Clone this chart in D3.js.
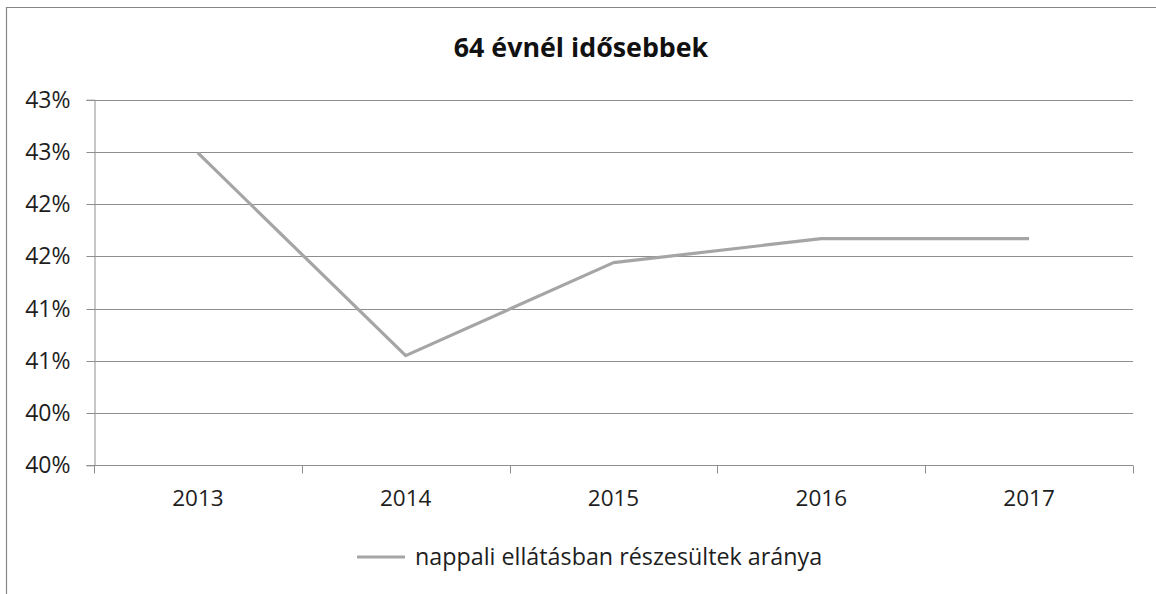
<!DOCTYPE html>
<html>
<head>
<meta charset="utf-8">
<script src="https://cdn.jsdelivr.net/npm/d3@7"></script>
<style>
  html, body { margin: 0; padding: 0; background: #fff; }
  svg { display: block; font-family: "Open Sans", Lato, sans-serif; }
</style>
</head>
<body>
<svg id="chart" width="1156" height="594"></svg>
<script>
// Share of people over 64 receiving day care, by year
const years = ["2013", "2014", "2015", "2016", "2017"];
const shareValues = [42.99, 41.05, 41.94, 42.17, 42.17];
const yTickValues = [40, 40.5, 41, 41.5, 42, 42.5, 43, 43.5];
const yTickLabels = ["40%", "40%", "41%", "41%", "42%", "42%", "43%", "43%"];
const titleText = "64 évnél idősebbek";
const seriesName = "nappali ellátásban részesültek aránya";

const svg = d3.select("#chart");
const W = 1156, H = 594;
const plot = { left: 94, right: 1133, top: 99.7, bottom: 465.3 };
const gridColor = "#8e8e8e";
const lineColor = "#a5a5a5";
const textColor = "#1e1e1e";

svg.append("rect").attr("width", W).attr("height", H).attr("fill", "#fff");

// outer frame (left and top edges visible)
svg.append("path")
  .attr("d", `M6.5,${H} V7.5 H${W}`)
  .attr("fill", "none")
  .attr("stroke", "#878787")
  .attr("stroke-width", 1.2);

const x = d3.scaleBand().domain(years).range([plot.left, plot.right]).padding(0);
const y = d3.scaleLinear().domain([40, 43.5]).range([plot.bottom, plot.top]);
const snap = v => Math.round(v) + 0.5;

// horizontal gridlines
svg.append("g").selectAll("line").data(yTickValues).join("line")
  .attr("x1", plot.left).attr("x2", plot.right)
  .attr("y1", d => snap(y(d))).attr("y2", d => snap(y(d)))
  .attr("stroke", gridColor).attr("stroke-width", 1);

// y axis
const yAxis = d3.axisLeft(y).tickValues(yTickValues)
  .tickFormat((d, i) => yTickLabels[i]).tickSize(8).tickPadding(16);
const gy = svg.append("g").attr("transform", `translate(${plot.left + 0.5},0)`).call(yAxis);
gy.select(".domain").attr("stroke", gridColor);
gy.selectAll(".tick line").attr("stroke", gridColor);
gy.selectAll(".tick").attr("transform", d => `translate(0,${snap(y(d))})`);
gy.selectAll("text").attr("font-size", 23).attr("fill", textColor)
  .attr("font-family", "'Open Sans', sans-serif");

// x axis with ticks at category boundaries
const gx = svg.append("g").attr("transform", `translate(0,${snap(plot.bottom)})`);
gx.append("line").attr("x1", plot.left).attr("x2", plot.right)
  .attr("stroke", gridColor);
const bounds = years.map(d => x(d)).concat([plot.right]);
gx.selectAll("line.tk").data(bounds).join("line").attr("class", "tk")
  .attr("x1", d => snap(d)).attr("x2", d => snap(d))
  .attr("y1", 0).attr("y2", 8).attr("stroke", gridColor);
gx.selectAll("text").data(years).join("text")
  .attr("x", d => x(d) + x.bandwidth() / 2)
  .attr("y", 40)
  .attr("text-anchor", "middle")
  .attr("font-size", 22.5).attr("fill", textColor)
  .text(d => d);

// series line
const line = d3.line()
  .x((d, i) => x(years[i]) + x.bandwidth() / 2)
  .y(d => y(d));
svg.append("path").datum(shareValues)
  .attr("d", line)
  .attr("fill", "none")
  .attr("stroke", lineColor)
  .attr("stroke-width", 3.2)
  .attr("stroke-linejoin", "round");

// title
svg.append("text").attr("x", 581).attr("y", 57)
  .attr("text-anchor", "middle")
  .attr("font-size", 26.8).attr("font-weight", "bold").attr("fill", "#111")
  .text(titleText);

// legend
const lg = svg.append("g").attr("transform", "translate(357,557)");
lg.append("line").attr("x1", 0).attr("x2", 48).attr("y1", 0).attr("y2", 0)
  .attr("stroke", lineColor).attr("stroke-width", 3.2);
lg.append("text").attr("x", 58).attr("y", 8)
  .attr("font-size", 23.3).attr("fill", textColor)
  .text(seriesName);
</script>
</body>
</html>
